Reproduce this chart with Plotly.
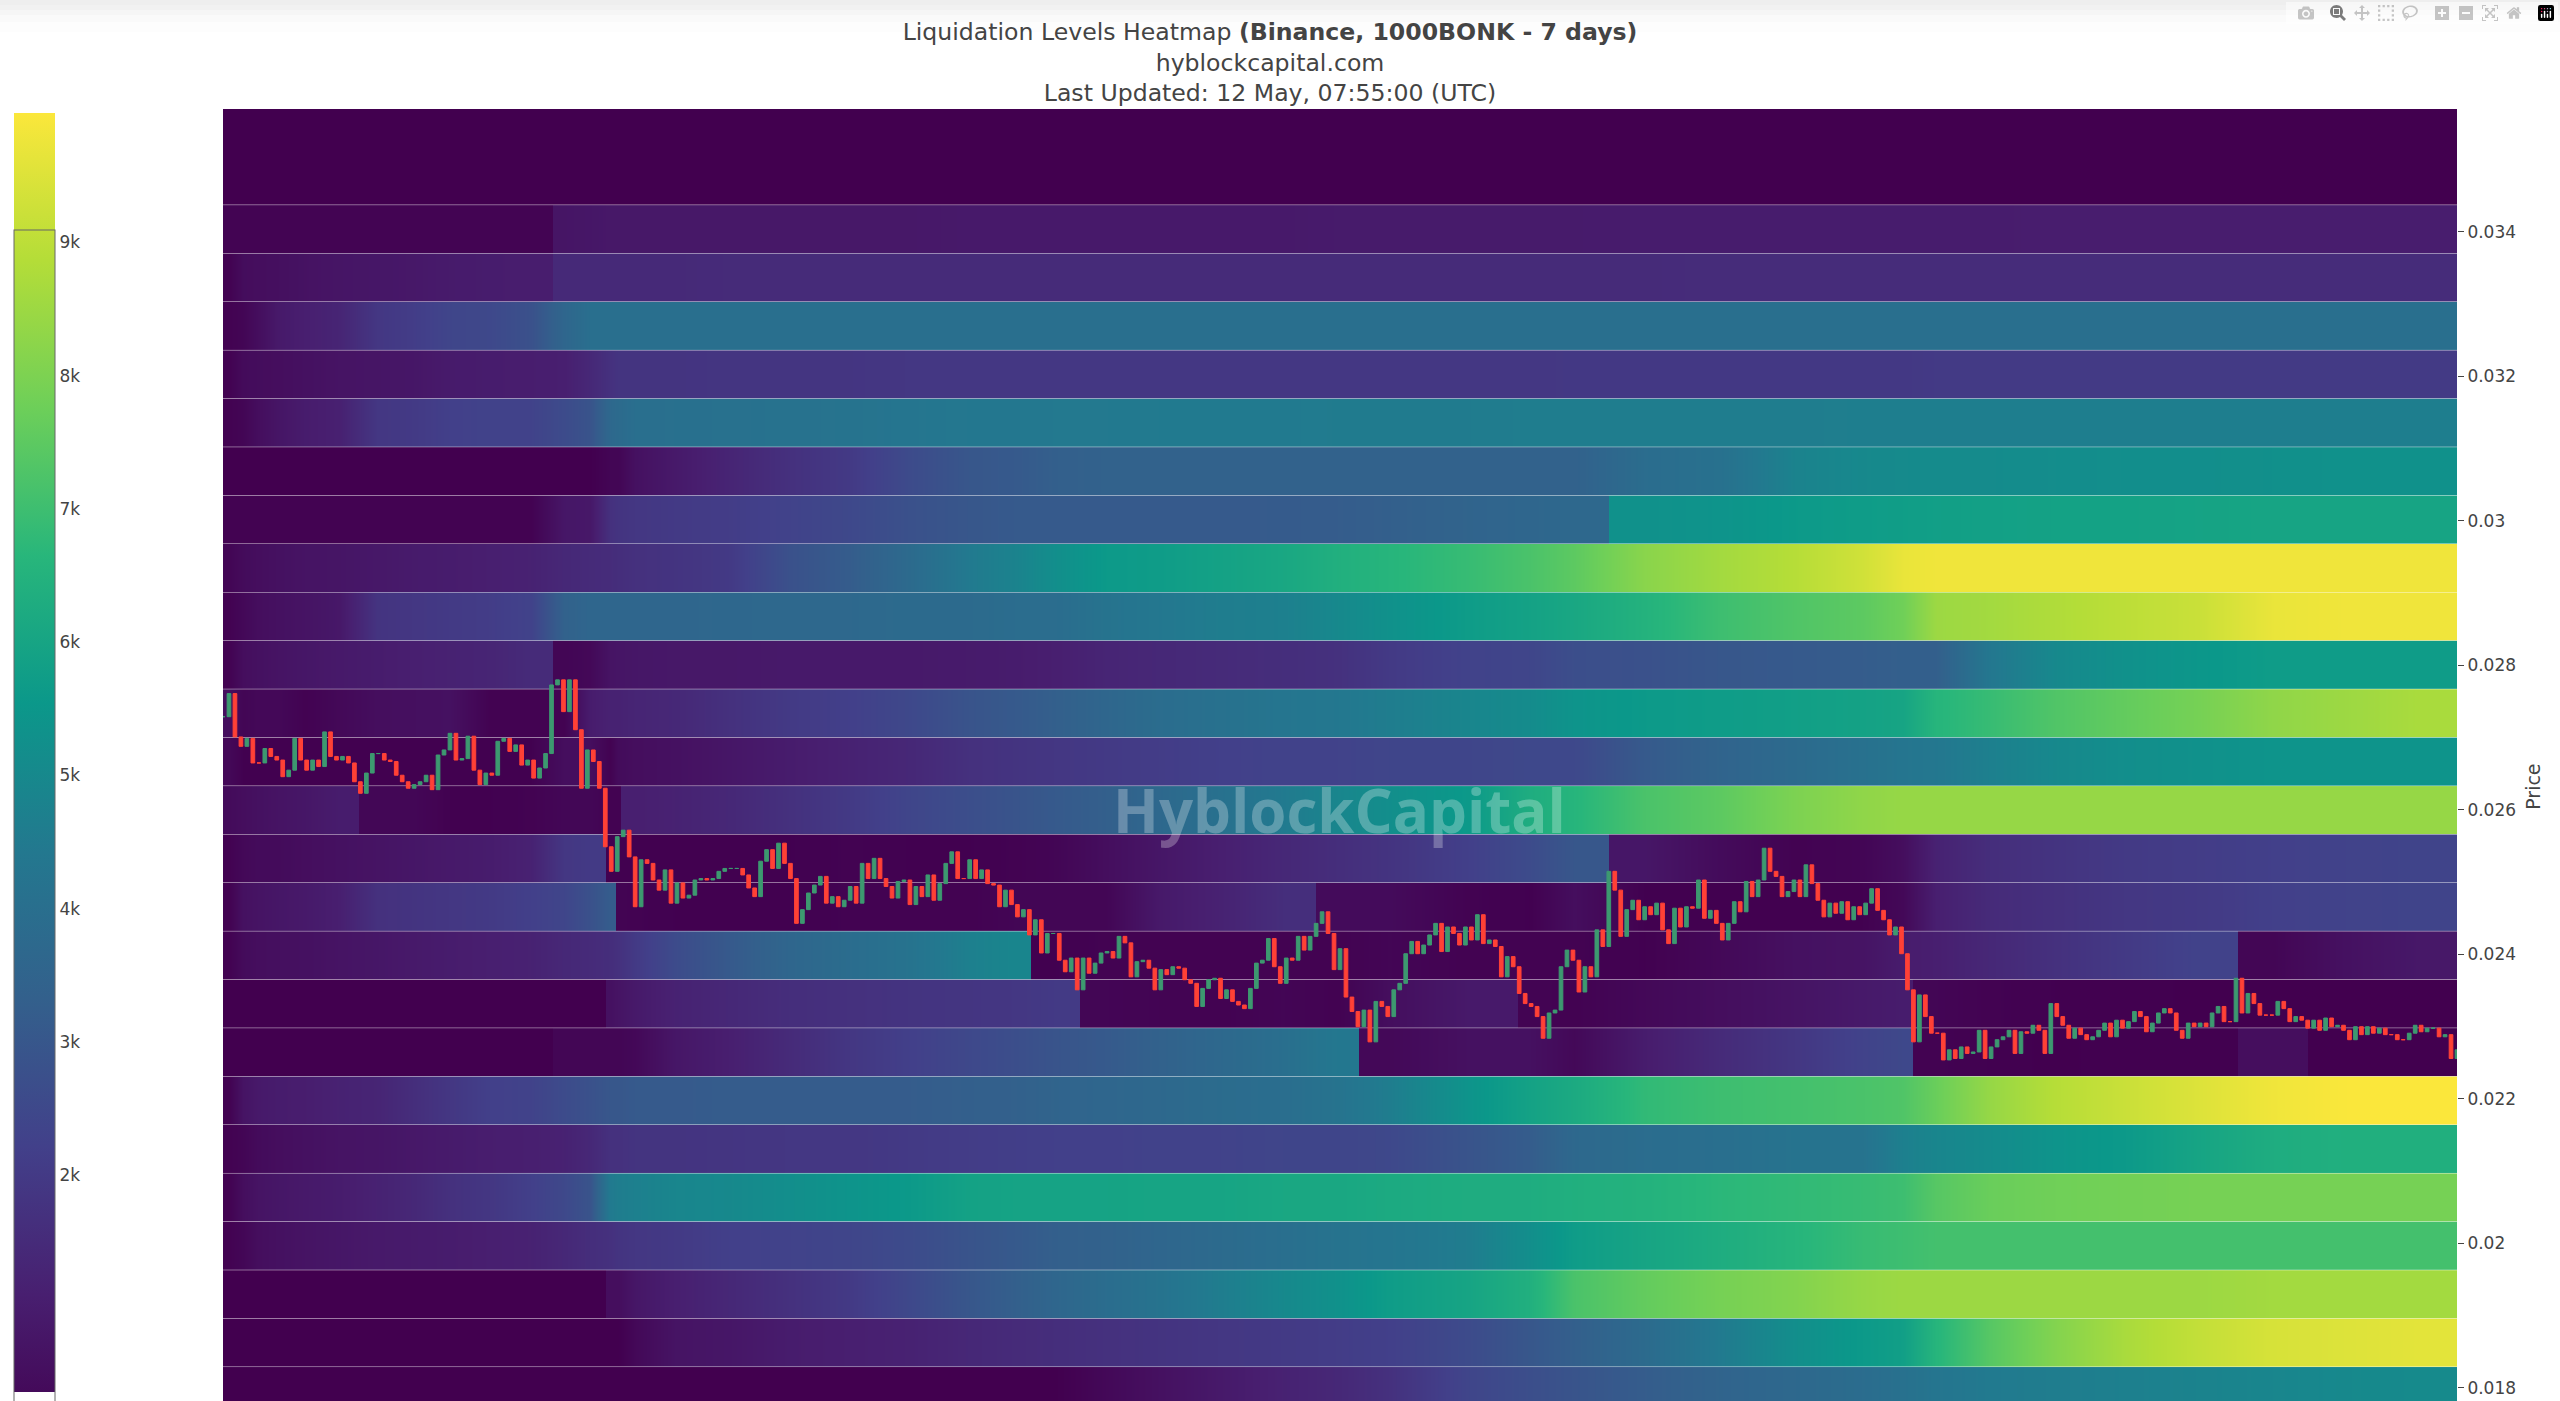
import plotly.graph_objects as go

# time axis is hidden; t runs over the 7 days in arbitrary units
t_edges = [0,12,27,42,67,97,135,172,207,247,287,329,352,382,392,397,427,477,537,597,
           657,717,777,807,856,907,967,1027,1092,1135,1197,1294,1317,1385,1457,1537,1607,1671,1689,1737,
           1797,1867,1937,2014,2084,2157,2234]
t_range = [0, 2234]

# price-level edges, in thousandths, bottom to top
level_edges = [17.62,18.29,18.96,19.63,20.30,20.97,21.64,22.31,22.98,23.65,24.32,24.99,25.66,26.33,
               27.00,27.67,28.34,29.01,29.68,30.35,31.02,31.69,32.36,33.03,33.70,34.37,35.04,35.71]
price_range = [17.82, 35.70]

# liquidation levels (thousands), rows top to bottom
band_00 = [0]*46
band_01 = [0]*46
band_02 = [.15,.15,.15,.15,.15,.15,.15,.15,.15,.15,.15,.75,.8,.85,.85,.85,.85,.85,.85,.85,.85,.9,.9,.9,.9,.9,.9,.9,.95,.95,.95,.95,.95,1,1,1,1,1,1,1,1.05,1.05,1.05,1.05,1.05,1.05]
band_03 = [.1,.45,.5,.55,.65,.75,.8,.85,.95,1.0,1.05,1.45,1.45,1.45,1.45,1.45,1.45,1.5,1.5,1.5,1.5,1.5,1.5,1.5,1.5,1.5,1.5,1.5,1.5,1.5,1.5,1.5,1.5,1.5,1.55,1.55,1.55,1.55,1.55,1.55,1.55,1.55,1.55,1.55,1.55,1.55]
band_04 = [.1,.2,.5,.9,1.1,1.3,1.9,2.1,2.4,2.5,2.8,3.6,4,4,4,4,4,4,4,4,4,4,4,4,4,4,4,4,4,4,4,4,4,4,4,4,4,4,4,4,4,4,4,4,4,4]
band_05 = [.1,.4,.45,.5,.6,.7,.75,.8,.95,1,1.05,1.1,1.4,1.7,1.8,1.8,1.8,1.85,1.85,1.85,1.9,1.9,1.9,1.9,1.9,1.9,1.9,1.9,1.9,1.9,1.9,1.9,1.95,1.95,1.95,1.95,1.95,1.95,2,2,2,2,2,2,2,2]
band_06 = [.1,.2,.5,.75,1,1.15,1.9,2,2.2,2.3,2.3,2.6,2.9,3.7,3.8,4,4.05,4.1,4.15,4.2,4.3,4.4,4.4,4.45,4.45,4.5,4.5,4.5,4.55,4.55,4.55,4.6,4.6,4.6,4.6,4.6,4.65,4.65,4.65,4.65,4.65,4.65,4.65,4.65,4.65,4.65]
band_07 = [0,0,0,0,0,0,0,0,0,0,0,0,0,.2,.2,.6,.9,1.3,1.7,2,2.6,3,3.1,3.3,3.4,3.4,3.4,3.4,3.4,3.4,3.4,3.4,3.4,3.9,4.1,4.8,5,5.05,5.1,5.1,5.15,5.2,5.2,5.25,5.3,5.3]
band_08 = [.1,.1,.1,.1,.1,.1,.1,.1,.1,.1,.1,.8,.85,1.7,1.8,1.9,2,2.1,2.3,2.5,2.8,3,3.1,3.1,3.1,3.1,3.1,3.15,3.2,3.3,3.5,3.6,3.7,5.3,5.4,5.6,5.7,5.75,5.8,5.85,5.9,5.9,5.95,6,6,6]
band_09 = [.2,.4,.5,.6,.7,.75,.85,.95,1,1.1,1.2,1.4,1.5,1.55,1.6,1.7,1.8,2,2.8,3.2,3.8,4.5,4.8,5.2,5.6,5.7,5.9,6.1,6.4,6.6,6.9,7.2,7.5,8.2,8.6,8.9,9.3,9.7,9.8,9.8,9.8,9.8,9.8,9.8,9.8,9.8]
band_10 = [.1,.3,.5,.6,.7,.85,1.8,1.9,2,2.1,2.3,3.4,3.6,3.6,3.6,3.6,3.6,3.65,3.7,3.7,3.8,3.8,3.9,3.9,4.2,4.4,4.6,4.7,5,5.3,5.7,5.9,6.1,6.5,7,7.3,7.5,7.8,8.5,8.6,8.8,9,9.2,9.7,9.8,9.8]
band_11 = [.1,.5,.6,.7,.8,.9,1,1.1,1.2,1.3,1.5,.2,.3,.7,.75,.8,.85,.85,.9,.9,.9,.95,1,1.1,1.3,1.4,1.5,1.6,1.7,2,2.3,2.4,2.7,2.8,3,3.1,3.2,3.3,3.3,4.4,5,5.3,5.5,5.7,5.7,5.7]
band_12 = [.5,.2,.3,.3,.1,.3,.5,.55,.6,.1,.1,.1,1,1.2,1.2,1.3,1.4,1.7,2,2.2,2.5,2.9,3.1,3.3,3.6,3.9,4.1,4.3,4.4,4.6,4.9,5.1,5.4,5.6,5.7,5.8,5.9,6,6.6,6.9,7.3,7.6,7.9,8.3,8.5,8.7]
band_13 = [.3,.05,.05,.05,.05,.05,.05,.05,.05,.05,.05,.5,.5,.1,.4,.5,.6,.8,1,1.2,1.4,1.7,1.8,1.9,2,2.1,2.2,2.3,2.3,2.4,2.4,2.5,2.5,3.1,3.5,3.8,4.1,4.3,4.4,4.7,5,5.2,5.3,5.4,5.4,5.4]
band_14 = [.4,.5,.6,.7,.8,1,.25,.25,.05,.05,.1,.25,.25,.1,.1,1.1,1.2,1.4,1.7,2,2.4,2.7,2.9,3.1,3.3,3.7,4.1,4.5,4.9,5.2,5.6,6.3,6.6,7.2,7.5,8,8.3,8.4,8.4,8.4,8.4,8.4,8.4,8.4,8.4,8.4]
band_15 = [.1,.3,.4,.4,.5,.6,.7,.8,.9,1,1.2,1.9,2,.05,.05,.05,.05,.05,.05,.1,.05,.05,.1,.2,.5,.8,1.1,1.4,1.6,1.8,2.2,2.6,3,.8,.4,.1,.2,.5,1.2,1.6,1.8,2,2.1,2.2,2.3,2.35]
band_16 = [.1,.6,.7,.8,.9,1.1,1.7,1.8,1.9,2,2.2,2.4,2.8,3.2,.15,.1,.05,.05,.05,.1,.1,.1,.2,.2,.2,.9,1.2,1.6,.4,.4,.1,.05,.5,.05,.05,.05,.05,.3,1.1,1.5,1.7,1.9,2,2.2,2.3,2.35]
band_17 = [.1,.4,.5,.55,.6,.7,.8,.9,1,1.1,1.2,1.4,1.5,1.6,1.7,2,2.6,3.1,3.6,3.9,4.2,4.7,4.9,.05,.1,.1,.1,.1,.1,.2,.1,.1,.1,.05,.3,.6,.7,1,1.1,1.4,1.7,2,2.3,.2,.6,.85]
band_18 = [0,0,0,0,0,0,0,0,0,0,0,0,0,.6,.7,.9,1.2,1.4,1.6,1.7,1.8,1.85,1.9,2,.2,.15,.1,.2,.1,.5,.9,.15,.1,.3,.5,.7,.9,1,.2,.1,.05,.05,0,0,0,0]
band_19 = [0,0,0,0,0,0,0,0,0,0,0,.2,.2,.2,.2,.3,.8,1.1,1.5,1.9,2.2,2.5,2.7,2.9,3.1,3.4,3.7,4,4.4,.3,.6,.6,.3,1,1.5,1.9,2.3,2.5,.1,.05,0,.05,.05,.5,0,0]
band_20 = [.1,.7,.9,1,1.05,1.2,1.3,1.6,1.9,2.2,2.3,2.6,2.8,3,3,3.1,3.1,3.2,3.2,3.2,3.2,3.3,3.35,3.5,3.6,3.7,3.85,3.95,4.2,4.6,5.4,5.9,6.2,6.8,7,7.1,7.2,7.3,7.7,8.4,8.9,9.2,9.5,9.8,9.95,10]
band_21 = [.1,.2,.4,.5,.6,.7,.75,.85,.95,1.05,1.1,1.2,1.4,1.7,1.7,1.8,1.8,1.85,1.9,1.9,2,2.1,2.15,2.2,2.2,2.3,2.3,2.4,2.4,2.5,2.9,3.2,3.7,3.9,4,4.2,4.2,4.7,4.9,5.1,5.4,5.6,6,6.3,6.4,6.4]
band_22 = [.1,.5,.7,.8,.9,1,1.2,1.4,1.7,1.9,2.2,2.5,2.9,4.5,4.6,4.7,4.9,5,5.2,5.4,5.6,5.9,5.95,5.95,5.95,6,6,6.1,6.1,6.2,6.3,6.3,6.4,6.5,6.7,6.8,6.9,7,7.4,7.7,7.8,7.85,7.9,7.9,7.9,7.9]
band_23 = [.1,.25,.5,.6,.7,.8,.9,.95,1,1.1,1.2,1.4,1.6,1.7,1.8,1.9,2,2.2,2.3,2.4,2.6,2.9,3.1,3.3,3.4,3.6,3.8,4,4.2,4.3,4.6,5.2,5.7,6,6.3,6.6,6.9,7,7.1,7.1,7.1,7.1,7.1,7.1,7.1,7.1]
band_24 = [0,0,0,0,0,0,0,0,0,0,0,0,0,.5,.5,.8,1.1,1.4,1.7,2,2.5,3,3.3,3.6,3.9,4.2,4.6,5,5.3,5.7,6,6.4,7.2,7.6,7.9,8.1,8.4,8.5,8.5,8.5,8.5,8.5,8.5,8.6,8.6,8.6]
band_25 = [0,0,0,0,0,0,0,0,0,0,0,0,0,0,0,.3,.7,.8,1,1.1,1.2,1.4,1.5,1.6,1.7,1.8,1.9,2,2.1,2.2,2.6,3,3.3,3.8,4.5,5.2,5.6,5.8,6.6,7.4,8.1,8.7,9.1,9.4,9.5,9.6]
band_26 = [0,0,0,0,0,0,0,0,0,0,0,0,0,0,0,0,0,0,0,0,0,0,0,0,.3,.6,.9,1.2,1.4,1.7,2.4,2.7,2.9,3.2,3.5,3.7,3.9,4.1,4.3,4.5,4.6,4.7,4.8,4.9,5,5.05]
bands = [band_00,band_01,band_02,band_03,band_04,band_05,band_06,band_07,band_08,band_09,band_10,band_11,band_12,
         band_13,band_14,band_15,band_16,band_17,band_18,band_19,band_20,band_21,band_22,band_23,band_24,band_25,band_26]

# columns at whose left edge a band changes abruptly (liquidated levels)
abrupt = {2:[11], 3:[11], 8:[33], 11:[11], 14:[6,15], 15:[13,33], 16:[14,28], 17:[23,43],
          18:[13,24,31,38], 19:[11,29,38,43,44], 24:[13]}

# price closes (thousandths of a unit) left to right
close_a = [27.29,27.61,27.01,26.88,26.99,26.65,26.65,26.85,26.74,26.69,26.46,26.55,26.99,26.69,26.55,26.69,26.60,27.08,26.74,26.69,
           26.74,26.65,26.39,26.23,26.51,26.78,26.78,26.69,26.67,26.48,26.39,26.30,26.35,26.39,26.48,26.28,26.76,26.83,27.06,26.69,
           26.71,27.02,26.55,26.35,26.51,26.48,26.95,26.99,26.81,26.90,26.62,26.69,26.44,26.58,26.78,27.73,27.80,27.36,27.80,27.11,
           26.30,26.83,26.67,26.30,25.49,25.15,25.63,25.72,25.35,24.66,25.31,25.26,25.03,24.89,25.17,24.71,24.99,24.78]
close_b = [24.82,25.03,25.05,25.03,25.05,25.15,25.19,25.19,25.19,25.10,24.92,24.80,25.29,25.45,25.19,25.54,25.26,25.05,24.43,24.62,
           24.85,24.96,25.08,24.71,24.80,24.66,24.75,24.94,24.71,25.26,25.05,25.33,25.05,24.94,24.78,25.01,25.03,24.69,24.94,24.80,
           25.10,24.75,24.98,25.26,25.42,25.05,25.05,25.31,25.05,25.17,24.98,24.96,24.66,24.89,24.69,24.52,24.62,24.27,24.48,24.02,
           24.29,24.29,23.92,23.76,23.95,23.51,23.95,23.74,23.88,24.02,24.04,23.95,24.25,24.16,23.69,23.90,23.92,23.81,23.51,23.79,
           23.72,23.83]
close_c = [23.81,23.65,23.60,23.28,23.53,23.65,23.67,23.39,23.51,23.35,23.30,23.25,23.53,23.88,23.92,24.22,23.83,23.60,23.95,23.92,
           24.25,24.06,24.25,24.43,24.59,24.29,23.79,24.08,23.41,23.21,23.00,23.23,22.79,23.35,23.28,23.14,23.51,23.60,24.01,24.18,
           24.01,24.13,24.27,24.43,24.04,24.38,24.29,24.13,24.38,24.20,24.55,24.15,24.20,24.11,23.69,23.97,23.83,23.46,23.32,23.28,
           23.14,22.84,23.19,23.23,23.83,24.06,23.92,23.48,23.83,23.69,24.34,24.11,25.15,24.89,24.25,24.62,24.75,24.48,24.66,24.55,
           24.71,24.34,24.15]
close_d = [24.64,24.38,24.66,24.64,25.03,24.50,24.61,24.43,24.20,24.43,24.73,24.59,25.01,24.80,25.03,25.47,25.15,25.08,24.80,24.87,
           25.03,24.80,25.24,24.98,24.75,24.52,24.71,24.57,24.73,24.48,24.66,24.55,24.71,24.91,24.61,24.48,24.27,24.38,24.01,23.51,
           22.79,23.44,23.14,22.91,22.91,22.54,22.68,22.56,22.72,22.63,22.65,22.95,22.56,22.72,22.82,22.86,22.95,22.63,22.93,22.91,
           23.02,22.95,22.63,23.32,23.14]
close_e = [23.02,22.84,22.98,22.89,22.82,22.86,22.95,23.05,22.86,23.09,22.98,23.07,23.21,23.14,22.93,23.05,23.19,23.25,23.19,22.95,
           22.84,23.05,23.00,23.05,23.00,23.19,23.28,23.07,23.07,23.67,23.19,23.46,23.32,23.16,23.16,23.16,23.35,23.25,23.07,23.14,
           23.09,22.98,23.09,22.95,23.12,23.00,23.02,22.95,22.82,23.00,22.89,23.00,22.91,22.98,22.89,22.89,22.82,22.82,22.91,23.02,
           22.93,22.98,22.98,22.86,22.89,22.56,22.68]
closes = close_a + close_b + close_c + close_d + close_e

color_stops = [[0,"#42004f"],[0.111,"#481f70"],[0.222,"#42408a"],[0.333,"#33608c"],[0.444,"#23788f"],
               [0.556,"#0b988a"],[0.667,"#28b67b"],[0.778,"#6dcf59"],[0.889,"#b4dd38"],[1,"#fbe73b"]]
z_range = [0, 9975]
cbar_visible_range = [375, 9975]
cbar_ticks = [1000,2000,3000,4000,5000,6000,7000,8000,9000]
cbar_text = ["1k","2k","3k","4k","5k","6k","7k","8k","9k"]

for row in bands:
    assert len(row) == len(t_edges) - 1, len(row)

fig = go.Figure()

# one heatmap per band, smoothed by the library along time only
for idx, row in enumerate(bands):
    xs_band, zs_band = [0], [row[0] * 1000]
    for i, v in enumerate(row):
        lo, hi = t_edges[i], t_edges[i + 1]
        if i in abrupt.get(idx, []):
            xs_band.append(lo + 0.5); zs_band.append(v * 1000)
        xs_band.append((lo + hi) / 2); zs_band.append(v * 1000)
        if i + 1 in abrupt.get(idx, []):
            xs_band.append(hi - 0.5); zs_band.append(v * 1000)
    xs_band.append(t_edges[-1]); zs_band.append(row[-1] * 1000)
    y_low = level_edges[len(bands) - 1 - idx] / 1000
    y_high = level_edges[len(bands) - idx] / 1000
    fig.add_trace(go.Heatmap(
        x=xs_band, y=[y_low, (y_low + y_high) / 2, y_high], z=[zs_band, zs_band],
        zmin=z_range[0], zmax=z_range[1], colorscale=color_stops, zsmooth="best",
        showscale=False, hoverinfo="skip",
    ))

# colour bar from a hidden trace: its lower end is cut by the page, as in the source
lo_c, hi_c = cbar_visible_range
import plotly.colors as pc
bar_low = pc.find_intermediate_color(pc.hex_to_rgb(color_stops[0][1]), pc.hex_to_rgb(color_stops[1][1]),
                                     (lo_c / z_range[1]) / color_stops[1][0])
bar_stops = [[0, "rgb(%d,%d,%d)" % bar_low]]
for pos, col in color_stops[1:]:
    bar_stops.append([(pos * z_range[1] - lo_c) / (hi_c - lo_c), col])
fig.add_trace(go.Scatter(
    x=[None, None], y=[None, None], mode="markers", showlegend=False, hoverinfo="skip",
    marker=dict(
        color=cbar_visible_range, cmin=lo_c, cmax=hi_c, colorscale=bar_stops, showscale=True,
        colorbar=dict(
            xref="container", yref="container", x=14/2560, xanchor="left",
            y=1-122/1401, yanchor="top", lenmode="pixels", len=1279,
            thicknessmode="pixels", thickness=41, xpad=0, ypad=0,
            outlinecolor="#666666", outlinewidth=1, borderwidth=0,
            tickvals=cbar_ticks, ticktext=cbar_text, ticks="",
            tickfont=dict(family="DejaVu Sans", size=17, color="#444444"),
        ),
    ),
))

n = len(closes)
step = (t_range[1] - t_range[0]) / (n - 1)
xs = [i * step for i in range(n)]
c = [v / 1000 for v in closes]
o = [c[0]] + c[:-1]
h = [max(a, b) for a, b in zip(o, c)]
l = [min(a, b) for a, b in zip(o, c)]
fig.add_trace(go.Candlestick(
    x=xs, open=o, high=h, low=l, close=c, whiskerwidth=0, showlegend=False,
    increasing=dict(line=dict(color="#3D9970", width=1), fillcolor="#3D9970"),
    decreasing=dict(line=dict(color="#FF4136", width=1), fillcolor="#FF4136"),
))

def top_rect(y0, y1, color):
    return dict(type="rect", xref="paper", yref="paper", layer="below", line_width=0, fillcolor=color,
                x0=-223/2234, x1=(2560-223)/2234, y0=(1401-y1)/1292, y1=(1401-y0)/1292)

fig.update_layout(
    width=2560, height=1401,
    margin=dict(l=223, r=103, t=109, b=0, autoexpand=False),
    paper_bgcolor="white", plot_bgcolor="white", boxgap=0.12,
    font=dict(family="DejaVu Sans", color="#444444"),
    title=dict(
        text="Liquidation Levels Heatmap <b>(Binance, 1000BONK - 7 days)</b><br>hyblockcapital.com<br>Last Updated: 12 May, 07:55:00 (UTC)",
        x=1270/2560, xanchor="center", xref="container", y=1-40/1401, yanchor="top", yref="container",
        font=dict(family="DejaVu Sans", size=23.6, color="#444444"),
    ),
    xaxis=dict(visible=False, range=t_range, rangeslider=dict(visible=False)),
    yaxis=dict(side="right", range=[v/1000 for v in price_range], dtick=0.002, tick0=0,
               showgrid=False, zeroline=False, ticks="outside", ticklen=6, tickcolor="#444444", tickwidth=1,
               showline=False, automargin=False,
               tickfont=dict(family="DejaVu Sans", size=17, color="#444444")),
    shapes=[top_rect(0,5,"#eeeeee"), top_rect(5,10,"#f1f1f1"), top_rect(10,15,"#f6f6f6"),
            top_rect(15,22,"#fafafa"), top_rect(22,32,"#fdfdfd")],
    annotations=[
        dict(text="HyblockCapital", x=1116, y=0.02600, xref="x", yref="y", showarrow=False,
             font=dict(family="Open Sans", size=60, color="rgba(255,255,255,0.27)", weight=700)),
        dict(text="Price", x=(2533-223)/2234, y=0.02632, xref="paper", yref="y", showarrow=False,
             xanchor="center", yanchor="middle", textangle=-90,
             font=dict(family="DejaVu Sans", size=19, color="#444444")),
    ],
)

fig.write_html("out.html", post_script="document.body.style.margin='0';")
